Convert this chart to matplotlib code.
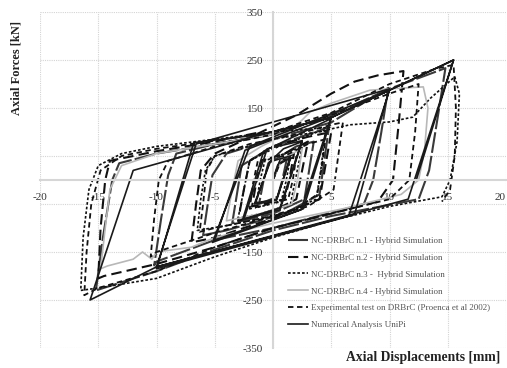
import numpy as np
import matplotlib.pyplot as plt

# hysteresis paths: (displacement mm, force kN)
nc1 = [(0, 0), (0.4, 30), (1.2, 45), (0.8, 0), (0.4, -35), (-1.2, -50), (-0.8, 0), (-0.4, 35),
       (0.7, 50), (2, 70), (3.5, 80), (3.1, 20), (2.7, -40), (0, -70), (-3.5, -90),
       (-3.1, -30), (-2.7, 30), (0, 70), (3, 95), (4.8, 110), (4.4, 40), (4, -30), (1, -70),
       (-4, -105), (-6, -115), (-5.6, -50), (-5.2, 10), (-4, 55), (0, 85), (5, 120), (9.9, 192),
       (9.3, 100), (8.6, 0), (7.8, -50), (0, -100), (-5, -125), (-10, -170), (-10.2, -178),
       (-9.6, -80), (-9, 10), (-8.3, 55), (-5, 75), (0, 95), (5, 135), (10, 190), (14.8, 233),
       (14.2, 140), (13.4, 20), (12.5, -40), (5, -75), (0, -105), (-5, -145), (-10, -190),
       (-15.2, -230), (-14.6, -120), (-13.8, 0), (-13.2, 35), (-10, 55), (-5, 75), (0, 95)]

nc2 = [(0, 0), (0.6, 40), (1.8, 55), (1.4, 0), (1, -40), (-1.8, -55), (-1.4, 0), (-1, 40),
       (1, 55), (3, 80), (2.5, 20), (2, -40), (0, -65), (-3, -85), (-2.5, -20),
       (-2, 40), (0, 70), (3, 90), (5, 100), (4.5, 30), (4, -40), (0, -80), (-5, -120),
       (-7, -130), (-6.6, -50), (-6.2, 20), (-5, 55), (-1, 100), (2, 135), (5, 180), (7, 205),
       (9, 218), (11.2, 227), (10.8, 120), (10.3, 0), (9, -45), (5, -70), (0, -100), (-5, -140),
       (-10, -175), (-14.5, -200), (-15, -205), (-14.8, -100), (-14.4, 0), (-14, 40), (-10, 60),
       (-5, 80), (-1, 100)]

nc3 = [(0, 0), (0.5, 35), (1.5, 48), (1.1, -5), (0.7, -45), (-1.5, -58), (-1.1, 0), (-0.7, 40),
       (1, 55), (2.5, 70), (2, 10), (1.5, -50), (-1, -70), (-3, -80), (-2.5, -20),
       (-2, 40), (0, 65), (3.8, 100), (4.5, 102), (4.1, 20), (3.7, -40), (1, -70), (-4, -95),
       (-6.5, -105), (-6.2, -40), (-5.8, 20), (-5, 50), (0, 85), (3.8, 100), (6.6, 115),
       (10, 121), (12, 131), (13.5, 170), (15.6, 215), (16, 180), (15.8, 80), (15.2, 0),
       (14.5, -35), (10, -55), (5, -85), (0, -120), (-5, -160), (-10, -205), (-15, -225),
       (-16.5, -230), (-16.3, -120), (-15.8, -20), (-15, 30), (-13, 55), (-10, 70), (-5, 85),
       (0, 100), (5, 110)]

nc4 = [(0, 0), (0.8, 45), (2.5, 65), (2.1, 0), (1.6, -50), (-1, -70), (-4, -85), (-3.5, -20),
       (-3, 40), (-1, 70), (1, 95), (2.5, 125), (3.2, 142), (5, 160), (8.3, 187), (10, 190),
       (12.9, 194), (13.3, 150), (13, 60), (12.5, 0), (11, -30), (6, -60), (0, -90), (-5, -120),
       (-7, -140), (-10, -150), (-10.4, -165), (-11.2, -150), (-12, -165), (-14.2, -179),
       (-14.8, -185), (-14.4, -100), (-14, -20), (-13, 30), (-10, 55), (-5, 75), (0, 95)]

exper = [(0, 0), (0.6, 35), (2, 50), (1.7, 0), (1.3, -40), (-2, -60), (-1.7, -5), (-1.3, 40),
         (1, 50), (3, 75), (4.5, 85), (4.2, 30), (3.8, -30), (2, -60), (-1, -80),
         (-5, -100), (-6.3, -108), (-6, -50), (-5.7, 20), (-5, 50), (-2, 75), (2, 95), (5, 115),
         (6, 120), (5.6, 50), (5.2, -20), (3, -55), (0, -75), (-5, -110), (-10, -150),
         (-10.5, -160), (-10.2, -80), (-9.8, 0), (-9, 40), (-5, 70), (0, 95), (5, 135), (10, 180),
         (12.5, 200), (12.2, 100), (11.7, 0), (10, -40), (5, -70), (0, -100), (-5, -140),
         (-10, -190), (-15, -225), (-16.2, -240), (-16, -150), (-15.6, -50), (-14.8, 20),
         (-13, 50), (-10, 65), (-5, 82), (0, 100), (5, 140), (10, 200), (14, 232), (15.5, 240),
         (15.7, 150), (15.6, 50), (15.2, -20), (14.5, -45)]

numer = [(0, 0), (0.5, 35), (1.5, 45), (0.3, -40), (-1.5, -48), (-0.3, 38), (1.5, 50),
         (0.3, -42), (-1.6, -50), (-0.2, 40), (0.9, 65), (2.5, 80), (0.6, -62), (-2.5, -82),
         (-0.5, 65), (2.5, 82), (0.6, -58), (-2.6, -82), (-0.8, 60), (5, 128), (2.6, -60),
         (-5, -125), (-2.4, 62), (5, 132), (2.4, -62), (-5.2, -130), (-2.0, 70), (10, 187),
         (6.5, -75), (-10, -181), (-6.6, 75), (10, 190), (7.0, -72), (-10, -185), (-6.8, 78),
         (-1, 95), (5, 130), (15.5, 250), (11.6, -40), (-10, -181), (-15.7, -250), (-12, 20),
         (-1, 95), (5, 130), (15.5, 250), (12.3, 0)]

ticks_x = [-20, -15, -10, -5, 0, 5, 10, 15, 20]
ticks_x_lab = ['-20', '-15', '-10', '-5', '', '5', '10', '15', '20']
ticks_y = [-350, -250, -150, -50, 50, 150, 250, 350]
ticks_y_lab = ['-350', '-250', '-150', '', '', '150', '250', '350']

plt.rcParams['font.family'] = ['Liberation Serif', 'DejaVu Serif']

fig = plt.figure(figsize=(5.07, 3.68), dpi=100)
ax = fig.add_axes([40 / 507, 1 - 348 / 368, 466 / 507, 336 / 368])

styles = [
    (nc1, "NC-DRBrC n.1 - Hybrid Simulation", dict(color='#3a3a3a', lw=1.5, dashes=(10, 1.5))),
    (nc2, "NC-DRBrC n.2 - Hybrid Simulation", dict(color='#111111', lw=1.5, dashes=(5, 2.5))),
    (nc3, "NC-DRBrC n.3 -  Hybrid Simulation", dict(color='#111111', lw=1.2, dashes=(1.6, 1.2))),
    (nc4, "NC-DRBrC n.4 - Hybrid Simulation", dict(color='#b8b8b8', lw=1.2)),
    (exper, "Experimental test on DRBrC (Proenca et al 2002)", dict(color='#111111', lw=1.3, dashes=(3, 2))),
    (numer, "Numerical Analysis UniPi", dict(color='#1a1a1a', lw=1.2)),
]
for pts, lab, st in styles:
    a = np.array(pts)
    ax.plot(a[:, 0], a[:, 1], label=lab, **st)

ax.set_xlim(-20, 20)
ax.set_ylim(-350, 350)
ax.set_xticks(ticks_x)
ax.set_xticklabels(ticks_x_lab)
ax.set_yticks(ticks_y)
ax.set_yticklabels(ticks_y_lab)
ax.grid(True, color='#d4d4d4', lw=0.8, ls=(0, (1, 1)))
ax.set_axisbelow(True)

for s in ['top', 'right']:
    ax.spines[s].set_visible(False)
ax.spines['bottom'].set_position('zero')
ax.spines['left'].set_position('zero')
ax.spines['bottom'].set_color('#d6d6d6')
ax.spines['left'].set_color('#d6d6d6')
ax.spines['bottom'].set_linewidth(1.5)
ax.spines['left'].set_linewidth(1.5)
ax.tick_params(length=0, labelsize=8, colors='#333333')
ax.tick_params(axis='x', pad=9)
ax.tick_params(axis='y', pad=7)
ax.get_xticklabels()[-1].set_horizontalalignment('right')
for t in ax.get_yticklabels():
    t.set_zorder(5)

leg = ax.legend(loc='upper left', bbox_to_anchor=(283 / 507, 1 - 232 / 368),
                bbox_transform=fig.transFigure, frameon=False, fontsize=6.5,
                labelspacing=0.95, handlelength=2.3, handletextpad=0.3, borderpad=0)
for t in leg.get_texts():
    t.set_color('#555555')

fig.text(17 / 507, 1 - 68 / 368, 'Axial Forces [kN]', rotation=90, ha='center', va='center',
         fontsize=9, fontweight='bold', color='#222222')
fig.text(500 / 507, 1 - 358 / 368, 'Axial Displacements [mm]', ha='right', va='center',
         fontsize=9.8, fontweight='bold', color='#222222')

fig.savefig('out.png', dpi=100)
